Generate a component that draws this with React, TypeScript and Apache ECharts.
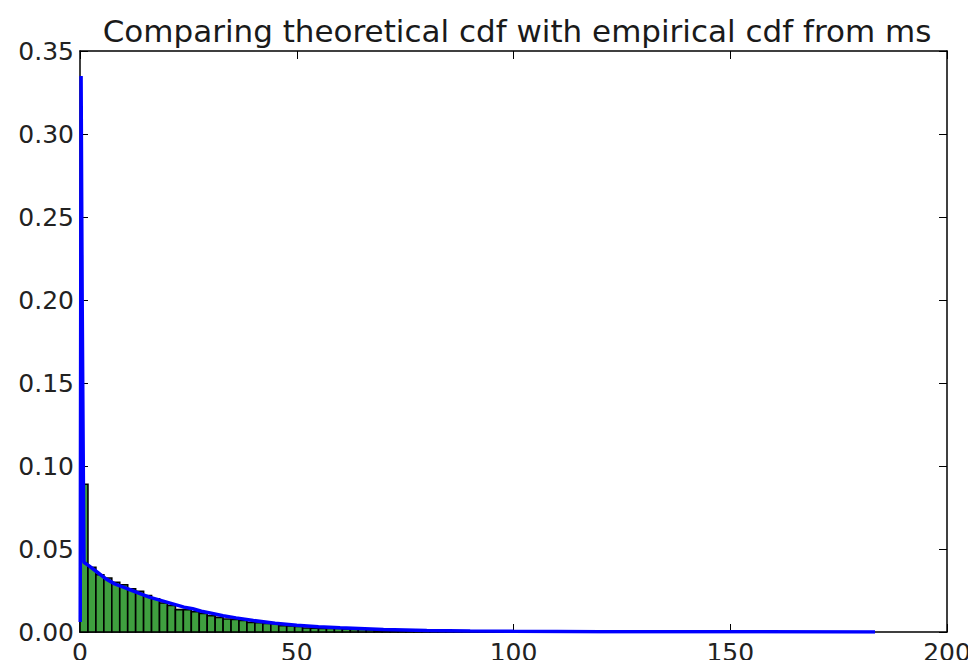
import React, { useEffect, useRef } from "react";
import * as echarts from "echarts";

const TITLE = "Comparing theoretical cdf with empirical cdf from ms";
const X_TICKS = [0, 50, 100, 150, 200];
const Y_TICKS = [0, 0.05, 0.1, 0.15, 0.2, 0.25, 0.3, 0.35];
const BIN_WIDTH = 1.834;
// empirical histogram density (100 bins from 0 to ~183.4)
const HIST_VALUES = [
  0.089, 0.039, 0.0345, 0.0325, 0.030, 0.0285, 0.026, 0.0245, 0.022, 0.020,
  0.0175, 0.016, 0.0135, 0.0135, 0.0122, 0.0112, 0.0098, 0.0088, 0.0078, 0.0075,
  0.0070, 0.0058, 0.0056, 0.0052, 0.0050, 0.0038, 0.0036, 0.0034, 0.0024, 0.0023,
  0.0022, 0.0022, 0.0021, 0.0018, 0.0016, 0.0016, 0.0014, 0.0008, 0.0007, 0.0007,
  0.0006, 0.0005, 0.0005, 0.0004, 0.0004, 0.0003, 0.0003, 0.0003, 0.0002, 0.0002,
  0.0002, 0.0002, 0.0001, 0.0001, 0.0001, 0.0001, 0.0001, 0.0001, 0.0001, 0.0001,
  0, 0.0001, 0, 0, 0.0001, 0, 0, 0, 0, 0,
  0, 0, 0, 0, 0, 0, 0, 0, 0, 0,
  0, 0, 0, 0, 0, 0, 0, 0, 0, 0,
  0, 0, 0, 0, 0, 0, 0, 0, 0, 0,
];
// theoretical pdf curve
const PDF_X = [0.05, 0.25, 0.5, 0.9, 2, 4, 6, 8, 10, 12, 14, 16, 18, 20, 22, 24, 26, 28, 30, 33, 36, 40, 45, 50, 55, 60, 70, 80, 90, 100, 120, 150, 183.4];
const PDF_Y = [0.006, 0.335, 0.2, 0.042, 0.040, 0.036, 0.032, 0.029, 0.027, 0.025, 0.023, 0.021, 0.0195, 0.018, 0.0165, 0.015, 0.014, 0.0125, 0.0115, 0.0098, 0.0085, 0.0069, 0.0053, 0.0041, 0.0032, 0.0025, 0.0015, 0.0009, 0.0006, 0.0004, 0.0002, 0.0001, 0.00005];

const FONT = "'DejaVu Sans', sans-serif";

export default function App() {
  const ref = useRef<HTMLDivElement>(null);
  useEffect(() => {
    if (!ref.current) return;
    const chart = echarts.init(ref.current, undefined, { renderer: "svg" });
    const histData = HIST_VALUES.map((v, i) => [i * BIN_WIDTH, (i + 1) * BIN_WIDTH, v]);
    const pdfData = PDF_X.map((x, i) => [x, PDF_Y[i]]);
    const axisCommon = {
      type: "value" as const,
      axisLine: { show: true, onZero: false, lineStyle: { color: "#000", width: 1.5 } },
      axisTick: { show: true, inside: true, length: 8, lineStyle: { color: "#000", width: 1 } },
      splitLine: { show: false },
    };
    chart.setOption({
      animation: false,
      backgroundColor: "#fff",
      grid: { left: 80, right: 29, top: 51, bottom: 36, containLabel: false },
      graphic: [
        {
          type: "text",
          x: 517,
          y: 31,
          style: {
            text: TITLE,
            fontFamily: FONT,
            fontSize: 31,
            fill: "#1a1a1a",
            textAlign: "center",
            textVerticalAlign: "middle",
          },
        },
      ],
      xAxis: [
        {
          ...axisCommon,
          position: "bottom",
          min: X_TICKS[0],
          max: X_TICKS[X_TICKS.length - 1],
          interval: 50,
          axisLabel: { fontFamily: FONT, fontSize: 25, color: "#222", margin: 8 },
        },
        {
          ...axisCommon,
          position: "top",
          min: X_TICKS[0],
          max: X_TICKS[X_TICKS.length - 1],
          interval: 50,
          axisLabel: { show: false },
        },
      ],
      yAxis: [
        {
          ...axisCommon,
          position: "left",
          min: Y_TICKS[0],
          max: Y_TICKS[Y_TICKS.length - 1],
          interval: 0.05,
          axisLabel: {
            fontFamily: FONT,
            fontSize: 25,
            color: "#222",
            margin: 6,
            formatter: (v: number) => v.toFixed(2),
          },
        },
        {
          ...axisCommon,
          position: "right",
          min: Y_TICKS[0],
          max: Y_TICKS[Y_TICKS.length - 1],
          interval: 0.05,
          axisLabel: { show: false },
        },
      ],
      series: [
        {
          type: "custom",
          xAxisIndex: 0,
          yAxisIndex: 0,
          encode: { x: [0, 1], y: 2 },
          data: histData,
          z: 2,
          renderItem: (params: any, api: any) => {
            const x0 = api.value(0);
            const x1 = api.value(1);
            const y = api.value(2);
            const p0 = api.coord([x0, 0]);
            const p1 = api.coord([x1, y]);
            return {
              type: "rect",
              shape: { x: p0[0], y: p1[1], width: p1[0] - p0[0], height: p0[1] - p1[1] },
              style: { fill: "#3f9f3f", stroke: "#000", lineWidth: 1.6 },
            };
          },
        },
        {
          type: "line",
          xAxisIndex: 0,
          yAxisIndex: 0,
          data: pdfData,
          showSymbol: false,
          z: 3,
          lineStyle: { color: "#0000ff", width: 3.5 },
          itemStyle: { color: "#0000ff" },
        },
      ],
    });
    return () => chart.dispose();
  }, []);
  return <div ref={ref} style={{ width: 976, height: 668, margin: -8 }} />;
}
